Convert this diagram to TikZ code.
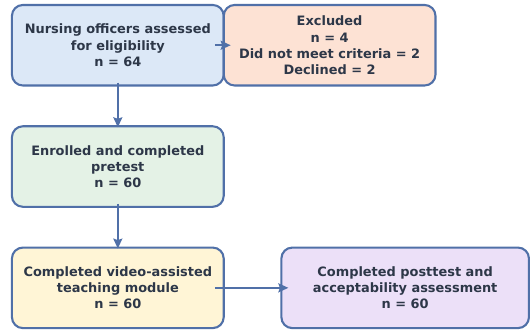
\documentclass[tikz,border=0pt]{standalone}
\usepackage{fontspec}
\setmainfont{DejaVu Sans}
\usepackage{xcolor}
\usetikzlibrary{positioning,arrows.meta}
\definecolor{edgeblue}{RGB}{80,112,168}
\definecolor{ink}{RGB}{45,55,72}
\definecolor{fillblue}{RGB}{220,232,247}
\definecolor{fillpeach}{RGB}{253,226,212}
\definecolor{fillmint}{RGB}{228,242,230}
\definecolor{fillcream}{RGB}{255,245,214}
\definecolor{filllilac}{RGB}{236,224,248}

\begin{document}
\begin{tikzpicture}[>={Stealth[length=10pt,width=9pt,inset=1.5pt]},x=1pt,y=1pt,
  box/.style={draw=edgeblue,line width=2.1pt,rounded corners=11pt,outer sep=0pt,
    minimum width=213pt,minimum height=81pt,inner sep=0pt,align=center,text=ink,
    font=\bfseries\fontsize{13}{16.2}\selectfont},
  flow/.style={->,draw=edgeblue,line width=2pt}]
  \node[box,fill=fillblue] (B1) {Nursing officers assessed\\for eligibility\\n = 64};
  \node[box,fill=fillpeach,right=0pt of B1] (B2) {Excluded\\n = 4\\Did not meet criteria = 2\\Declined = 2};
  \node[box,fill=fillmint,below=41pt of B1] (B3) {Enrolled and completed\\pretest\\n = 60};
  \node[box,fill=fillcream,below=41pt of B3] (B4) {Completed video-assisted\\teaching module\\n = 60};
  \node[box,fill=filllilac,right=58pt of B4,minimum width=249pt] (B5) {Completed posttest and\\acceptability assessment\\n = 60};

  \draw[flow] ([xshift=-9pt]B1.east) -- ([xshift=7pt]B2.west);
  \draw[flow] ([yshift=3pt]B1.south) -- ([yshift=-1pt]B3.north);
  \draw[flow] ([yshift=3pt]B3.south) -- ([yshift=-1pt]B4.north);
  \draw[flow] ([xshift=-9pt]B4.east) -- ([xshift=7pt]B5.west);

  \useasboundingbox ([shift={(-12,5)}]B1.north west) rectangle ++(530,-331);
\end{tikzpicture}
\end{document}
